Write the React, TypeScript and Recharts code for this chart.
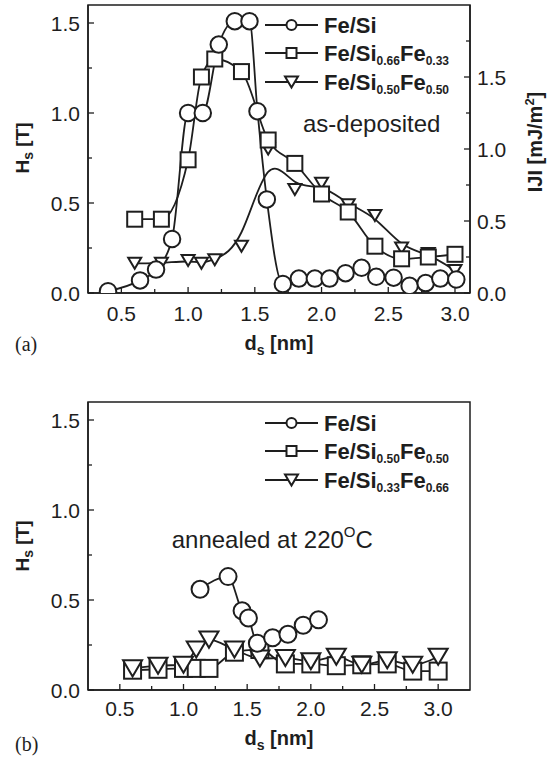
import React from 'react';
import { LineChart, Line, XAxis, YAxis, ReferenceArea } from 'recharts';

const SANS = '"Liberation Sans", Arial, Helvetica, sans-serif';
const SERIF = '"Liberation Serif", "Times New Roman", serif';
const INK = '#1e1e1e';

// ---------- (a) as-deposited ----------
const feSiA_d = [0.40, 0.64, 0.76, 0.88, 1.00, 1.11, 1.23, 1.35, 1.46, 1.52, 1.59, 1.71, 1.83, 1.95, 2.06, 2.18, 2.30, 2.41, 2.54, 2.66, 2.78, 2.89, 3.01];
const feSiA_h = [0.01, 0.07, 0.13, 0.30, 1.00, 1.00, 1.38, 1.51, 1.51, 1.01, 0.52, 0.05, 0.08, 0.08, 0.08, 0.11, 0.14, 0.09, 0.085, 0.04, 0.055, 0.08, 0.075];

const sq66A_d = [0.6, 0.8, 1.0, 1.1, 1.2, 1.4, 1.6, 1.8, 2.0, 2.2, 2.4, 2.6, 2.8, 3.0];
const sq66A_h = [0.41, 0.41, 0.74, 1.20, 1.30, 1.23, 0.85, 0.72, 0.55, 0.45, 0.26, 0.19, 0.20, 0.215];

const tri50A_d = [0.6, 0.8, 1.0, 1.1, 1.2, 1.4, 1.6, 1.8, 2.0, 2.2, 2.4, 2.6, 2.8, 3.0];
const tri50A_h = [0.165, 0.165, 0.18, 0.165, 0.185, 0.26, 0.80, 0.575, 0.61, 0.49, 0.43, 0.25, 0.22, 0.125];

// ---------- (b) annealed at 220 C ----------
const feSiB_d = [1.13, 1.35, 1.46, 1.51, 1.58, 1.70, 1.82, 1.94, 2.06];
const feSiB_h = [0.56, 0.63, 0.44, 0.40, 0.26, 0.29, 0.31, 0.36, 0.39];

const sq50B_d = [0.6, 0.8, 1.0, 1.1, 1.2, 1.4, 1.6, 1.8, 2.0, 2.2, 2.4, 2.6, 2.8, 3.0];
const sq50B_h = [0.11, 0.115, 0.12, 0.12, 0.12, 0.21, 0.225, 0.145, 0.145, 0.135, 0.14, 0.145, 0.105, 0.105];

const tri33B_d = [0.6, 0.8, 1.0, 1.1, 1.2, 1.4, 1.6, 1.8, 2.0, 2.2, 2.4, 2.6, 2.8, 3.0];
const tri33B_h = [0.12, 0.135, 0.14, 0.225, 0.28, 0.225, 0.175, 0.178, 0.16, 0.185, 0.14, 0.165, 0.14, 0.185];

// ---------- axes ----------
const xTicks = [0.5, 0.75, 1.0, 1.25, 1.5, 1.75, 2.0, 2.25, 2.5, 2.75, 3.0];
const hTicks = [0, 0.25, 0.5, 0.75, 1.0, 1.25, 1.5];
const jTicks = [0, 0.25, 0.5, 0.75, 1.0, 1.25, 1.5, 1.75];
const xDomainA = [0.25, 3.1125];
const xDomainB = [0.25, 3.25];
const hDomain = [0, 1.6];
const jDomain = [0, 2.0];

// legend labels: [text, isSubscript]
const legendA = [
  { marker: 'circle', parts: [['Fe/Si', false]] },
  { marker: 'square', parts: [['Fe/Si', false], ['0.66', true], ['Fe', false], ['0.33', true]] },
  { marker: 'tri', parts: [['Fe/Si', false], ['0.50', true], ['Fe', false], ['0.50', true]] },
];
const legendB = [
  { marker: 'circle', parts: [['Fe/Si', false]] },
  { marker: 'square', parts: [['Fe/Si', false], ['0.50', true], ['Fe', false], ['0.50', true]] },
  { marker: 'tri', parts: [['Fe/Si', false], ['0.33', true], ['Fe', false], ['0.66', true]] },
];

const toPts = (xs: number[], ys: number[]) => xs.map((d, i) => ({ d, h: ys[i] }));

// ---------- markers ----------
const Marker = ({ kind, cx, cy, size, sw = 2 }: any) => {
  if (kind === 'circle')
    return <circle cx={cx} cy={cy} r={size / 2} fill="#fff" stroke={INK} strokeWidth={sw} />;
  if (kind === 'square')
    return <rect x={cx - size / 2} y={cy - size / 2} width={size} height={size} fill="#fff" stroke={INK} strokeWidth={sw} />;
  const w = size;
  const h = size * 0.85;
  return (
    <polygon
      points={`${cx - w / 2},${cy - h / 2} ${cx + w / 2},${cy - h / 2} ${cx},${cy + h / 2}`}
      fill="#fff"
      stroke={INK}
      strokeWidth={sw}
      strokeLinejoin="miter"
    />
  );
};

const dotOf = (kind: string, size: number) => (p: any) => {
  if (p.cx == null || p.cy == null) return <g key={p.index} />;
  return <Marker key={`${kind}-${p.index}`} kind={kind} cx={p.cx} cy={p.cy} size={size} />;
};

// ---------- ticks ----------
const isMajor = (v: number) => Math.abs(v * 2 - Math.round(v * 2)) < 1e-6;
const TICK_FS = 21;

const xTick = (gap: number) => (p: any) => {
  const v = p.payload.value;
  const maj = isMajor(v);
  const ay = p.y - gap;
  return (
    <g>
      <line x1={p.x} x2={p.x} y1={ay} y2={ay - (maj ? 6 : 4)} stroke={INK} strokeWidth={1.3} />
      {maj && (
        <text x={p.x} y={p.y} dy="0.36em" textAnchor="middle" fontFamily={SANS} fontSize={TICK_FS} fill={INK}>
          {v.toFixed(1)}
        </text>
      )}
    </g>
  );
};

const yTickLeft = (gap: number) => (p: any) => {
  const v = p.payload.value;
  const maj = isMajor(v);
  const ax = p.x + gap;
  return (
    <g>
      <line x1={ax} x2={ax + (maj ? 6 : 4)} y1={p.y} y2={p.y} stroke={INK} strokeWidth={1.3} />
      {maj && (
        <text x={p.x} y={p.y} dy="0.36em" textAnchor="end" fontFamily={SANS} fontSize={TICK_FS} fill={INK}>
          {v.toFixed(1)}
        </text>
      )}
    </g>
  );
};

const yTickRight = (gap: number) => (p: any) => {
  const v = p.payload.value;
  const maj = isMajor(v);
  const ax = p.x - gap;
  return (
    <g>
      <line x1={ax} x2={ax - (maj ? 6 : 4)} y1={p.y} y2={p.y} stroke={INK} strokeWidth={1.3} />
      {maj && (
        <text x={p.x} y={p.y} dy="0.36em" textAnchor="start" fontFamily={SANS} fontSize={TICK_FS} fill={INK}>
          {v.toFixed(1)}
        </text>
      )}
    </g>
  );
};

// ---------- legend ----------
const LegendBlock = ({ items, rows }: any) => (
  <g>
    {items.map((it: any, i: number) => {
      const y = rows[i];
      return (
        <g key={i}>
          <line x1={265} x2={318} y1={y} y2={y} stroke={INK} strokeWidth={2} />
          <Marker kind={it.marker} cx={291.5} cy={y} size={it.marker === 'tri' ? 13 : 10} sw={2} />
          <text x={324} y={y + 7.8} fontFamily={SANS} fontWeight="bold" fontSize={22} fill={INK}>
            {it.parts.map((pt: any, k: number) => {
              const prevSub = k > 0 && it.parts[k - 1][1];
              if (pt[1])
                return (
                  <tspan key={k} fontSize={12} dy={4.5}>
                    {pt[0]}
                  </tspan>
                );
              return (
                <tspan key={k} fontSize={22} dy={prevSub ? -4.5 : 0}>
                  {pt[0]}
                </tspan>
              );
            })}
          </text>
        </g>
      );
    })}
  </g>
);

const AxisLabelH = ({ cy }: any) => (
  <text
    transform={`translate(29,${cy}) rotate(-90)`}
    textAnchor="middle"
    fontFamily={SANS}
    fontWeight="bold"
    fontSize={19}
    fill={INK}
  >
    H<tspan fontSize={14} dy={4}>s</tspan>
    <tspan dy={-4}> [T]</tspan>
  </text>
);

const AxisLabelD = ({ y }: any) => (
  <text x={279} y={y} textAnchor="middle" fontFamily={SANS} fontWeight="bold" fontSize={20} fill={INK}>
    d<tspan fontSize={14} dy={5}>s</tspan>
    <tspan dy={-5}> [nm]</tspan>
  </text>
);

export default function App() {
  const dataFeSiA = toPts(feSiA_d, feSiA_h);
  const dataSq66A = toPts(sq66A_d, sq66A_h);
  const dataTri50A = toPts(tri50A_d, tri50A_h);
  const dataFeSiB = toPts(feSiB_d, feSiB_h);
  const dataSq50B = toPts(sq50B_d, sq50B_h);
  const dataTri33B = toPts(tri33B_d, tri33B_h);

  return (
    <div style={{ position: 'absolute', left: 0, top: 0, width: 551, height: 761, background: '#fff' }}>
      <div style={{ position: 'absolute', left: 0, top: 0 }}>
        <LineChart width={551} height={380} margin={{ top: 5, right: 0, bottom: 57, left: 0 }}>
          <XAxis
            type="number"
            dataKey="d"
            domain={xDomainA}
            allowDataOverflow
            ticks={xTicks}
            interval={0}
            height={30}
            tickSize={0}
            tickMargin={20}
            axisLine={{ stroke: INK, strokeWidth: 1.5 }}
            tickLine={false}
            tick={xTick(20)}
          />
          <YAxis
            yAxisId="H"
            type="number"
            domain={hDomain}
            allowDataOverflow
            ticks={hTicks}
            interval={0}
            width={88}
            tickSize={0}
            tickMargin={8}
            axisLine={{ stroke: INK, strokeWidth: 1.5 }}
            tickLine={false}
            tick={yTickLeft(8)}
          />
          <YAxis
            yAxisId="J"
            orientation="right"
            type="number"
            domain={jDomain}
            allowDataOverflow
            ticks={jTicks}
            interval={0}
            width={81}
            tickSize={0}
            tickMargin={7}
            axisLine={{ stroke: INK, strokeWidth: 1.5 }}
            tickLine={false}
            tick={yTickRight(7)}
          />
          <ReferenceArea
            yAxisId="H"
            x1={xDomainA[0]}
            x2={xDomainA[1]}
            y1={hDomain[0]}
            y2={hDomain[1]}
            fill="none"
            fillOpacity={0}
            stroke={INK}
            strokeWidth={1.5}
          />
          <Line yAxisId="H" data={dataTri50A} dataKey="h" type="basis" stroke={INK} strokeWidth={1.8} dot={dotOf('tri', 13)} isAnimationActive={false} />
          <Line yAxisId="H" data={dataSq66A} dataKey="h" type="monotone" stroke={INK} strokeWidth={1.8} dot={dotOf('square', 15)} isAnimationActive={false} />
          <Line yAxisId="H" data={dataFeSiA} dataKey="h" type="monotone" stroke={INK} strokeWidth={1.8} dot={dotOf('circle', 16.5)} isAnimationActive={false} />
        </LineChart>
      </div>

      <div style={{ position: 'absolute', left: 0, top: 380 }}>
        <LineChart width={551} height={381} margin={{ top: 22, right: 81, bottom: 41, left: 0 }}>
          <XAxis
            type="number"
            dataKey="d"
            domain={xDomainB}
            allowDataOverflow
            ticks={xTicks}
            interval={0}
            height={30}
            tickSize={0}
            tickMargin={18}
            axisLine={{ stroke: INK, strokeWidth: 1.5 }}
            tickLine={false}
            tick={xTick(18)}
          />
          <YAxis
            type="number"
            domain={hDomain}
            allowDataOverflow
            ticks={hTicks}
            interval={0}
            width={88}
            tickSize={0}
            tickMargin={8}
            axisLine={{ stroke: INK, strokeWidth: 1.5 }}
            tickLine={false}
            tick={yTickLeft(8)}
          />
          <ReferenceArea
            x1={xDomainB[0]}
            x2={xDomainB[1]}
            y1={hDomain[0]}
            y2={hDomain[1]}
            fill="none"
            fillOpacity={0}
            stroke={INK}
            strokeWidth={1.5}
          />
          <Line data={dataSq50B} dataKey="h" type="monotone" stroke={INK} strokeWidth={1.8} dot={dotOf('square', 17)} isAnimationActive={false} />
          <Line data={dataTri33B} dataKey="h" type="monotone" stroke={INK} strokeWidth={1.8} dot={dotOf('tri', 19)} isAnimationActive={false} />
          <Line data={dataFeSiB} dataKey="h" type="monotone" stroke={INK} strokeWidth={1.8} dot={dotOf('circle', 17)} isAnimationActive={false} />
        </LineChart>
      </div>

      <svg
        width={551}
        height={761}
        style={{ position: 'absolute', left: 0, top: 0, pointerEvents: 'none' }}
      >
        {/* panel (a) */}
        <LegendBlock items={legendA} rows={[25, 53, 82]} />
        <text x={303} y={131.7} fontFamily={SANS} fontSize={24} fill={INK}>as-deposited</text>
        <AxisLabelH cy={148} />
        <text
          transform="translate(541.5,142) rotate(-90)"
          textAnchor="middle"
          fontFamily={SANS}
          fontWeight="bold"
          fontSize={20}
          fill={INK}
        >
          IJI [mJ/m<tspan fontSize={13} dy={-8}>2</tspan>
          <tspan dy={8}>]</tspan>
        </text>
        <AxisLabelD y={350} />
        <text x={15} y={350.5} fontFamily={SERIF} fontSize={20} fill={INK}>(a)</text>

        {/* panel (b) */}
        <LegendBlock items={legendB} rows={[423, 451, 480]} />
        <text x={171.7} y={547.7} fontFamily={SANS} fontSize={24} fill={INK}>
          annealed at 220<tspan fontSize={15} dy={-10.7}>O</tspan>
          <tspan dy={10.7}>C</tspan>
        </text>
        <AxisLabelH cy={546} />
        <AxisLabelD y={745} />
        <text x={15} y={750.5} fontFamily={SERIF} fontSize={20} fill={INK}>(b)</text>
      </svg>
    </div>
  );
}
